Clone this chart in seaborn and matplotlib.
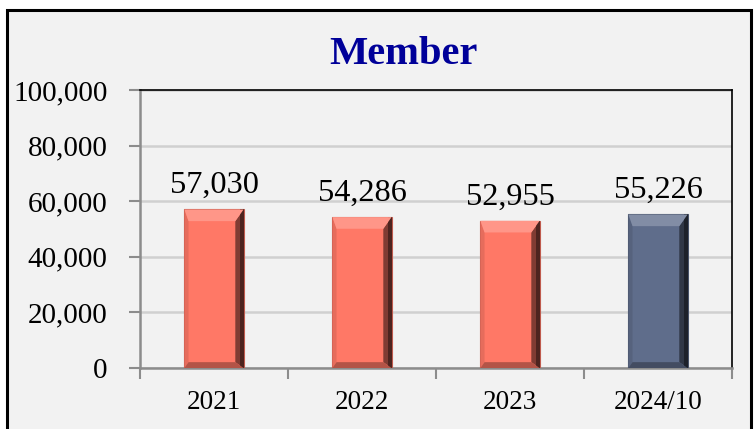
import numpy as np
import pandas as pd
import matplotlib
matplotlib.use('Agg')
import matplotlib.pyplot as plt
import seaborn as sns
from matplotlib.patches import Rectangle, Polygon
from matplotlib.ticker import FuncFormatter, FixedLocator

# data
periods = ['2021', '2022', '2023', '2024/10']
members = [57030, 54286, 52955, 55226]
bar_colors = ['#FF7866', '#FF7866', '#FF7866', '#5F6D8B']

sns.set_style('white')
plt.rcParams['font.family'] = ['Liberation Serif', 'DejaVu Serif']
plt.rcParams['text.color'] = 'black'
plt.rcParams['xtick.labelcolor'] = 'black'
plt.rcParams['ytick.labelcolor'] = 'black'

fig = plt.figure(figsize=(7.56, 4.29), dpi=100)
fig.patch.set_facecolor('white')
# chart frame
fig.patches.append(Rectangle((7 / 756, -0.01), 744 / 756, 1 - 10 / 429 + 0.01,
                             transform=fig.transFigure, facecolor='#F2F2F2',
                             edgecolor='black', linewidth=2.2, zorder=-5))

ax = fig.add_axes([140 / 756, 1 - 368 / 429, 592 / 756, 278 / 429])
ax.set_facecolor('#F2F2F2')

df = pd.DataFrame({'period': periods, 'members': members})
sns.barplot(data=df, x='period', y='members', hue='period', palette=bar_colors,
            width=0.4, legend=False, ax=ax, saturation=1, zorder=3)

# bevel shading on each bar
def shade(c, f):
    rgb = np.array(matplotlib.colors.to_rgb(c))
    return tuple(np.clip(rgb * f if f < 1 else rgb + (1 - rgb) * (f - 1), 0, 1))

for patch, col in zip(list(ax.patches), bar_colors):
    x0, y0 = patch.get_x(), patch.get_y()
    w, h = patch.get_width(), patch.get_height()
    patch.set_edgecolor(shade(col, 0.75))
    patch.set_linewidth(0.8)
    bw = w * 0.14
    bh = 4200
    # right dark edge
    ax.add_patch(Polygon([(x0 + w - bw, y0 + bh * 0.5), (x0 + w, y0), (x0 + w, y0 + h),
                          (x0 + w - bw, y0 + h - bh)], closed=True,
                         facecolor=shade(col, 0.5), edgecolor='none', zorder=4))
    ax.add_patch(Rectangle((x0 + w - bw * 0.45, y0), bw * 0.45, h,
                           facecolor=shade(col, 0.3), edgecolor='none', zorder=4))
    # left edge
    ax.add_patch(Polygon([(x0, y0), (x0 + bw * 0.5, y0 + bh * 0.5), (x0 + bw * 0.5, y0 + h - bh),
                          (x0, y0 + h)], closed=True,
                         facecolor=shade(col, 0.9), edgecolor='none', zorder=4))
    # top light bevel
    ax.add_patch(Polygon([(x0, y0 + h), (x0 + w, y0 + h), (x0 + w - bw, y0 + h - bh),
                          (x0 + bw * 0.5, y0 + h - bh)], closed=True,
                         facecolor=shade(col, 1.22), edgecolor='none', zorder=4))
    # bottom dark bevel
    ax.add_patch(Polygon([(x0, y0), (x0 + w, y0), (x0 + w - bw, y0 + bh * 0.5),
                          (x0 + bw * 0.5, y0 + bh * 0.5)], closed=True,
                         facecolor=shade(col, 0.7), edgecolor='none', zorder=4))

for i, v in enumerate(members):
    ax.text(i, v + 3400, f'{v:,}', ha='center', va='bottom', fontsize=23.3,
            color='black', zorder=5)

ax.set_ylim(0, 100000)
ax.set_xlim(-0.5, 3.5)
ax.yaxis.set_major_locator(FixedLocator(range(0, 100001, 20000)))
ax.yaxis.set_major_formatter(FuncFormatter(lambda v, p: f'{int(v):,}'))
ax.grid(axis='y', color='#D0D0D0', linewidth=1.8, zorder=1)
ax.set_axisbelow(True)
ax.set_xlabel('')
ax.set_ylabel('')

ax.tick_params(axis='y', labelsize=21, length=8, width=1.5, color='#8C8C8C',
               direction='out', pad=15.5, left=True)
ax.tick_params(axis='x', which='major', labelsize=19.5, length=0, pad=16)
ax.set_xticks([-0.5, 0.5, 1.5, 2.5, 3.5], minor=True)
ax.tick_params(axis='x', which='minor', length=8, width=1.5, color='#8C8C8C',
               direction='out', bottom=True)

for s in ['left', 'bottom']:
    ax.spines[s].set_color('#8C8C8C')
    ax.spines[s].set_linewidth(1.8)
for s in ['top', 'right']:
    ax.spines[s].set_color('black')
    ax.spines[s].set_linewidth(1.2)
    ax.spines[s].set_visible(True)

fig.text(403 / 756, 1 - 55 / 429, 'Member', ha='center', va='center',
         fontsize=29.2, fontweight='bold', color='#000099')

fig.savefig('out.png', dpi=100, facecolor=fig.get_facecolor())
